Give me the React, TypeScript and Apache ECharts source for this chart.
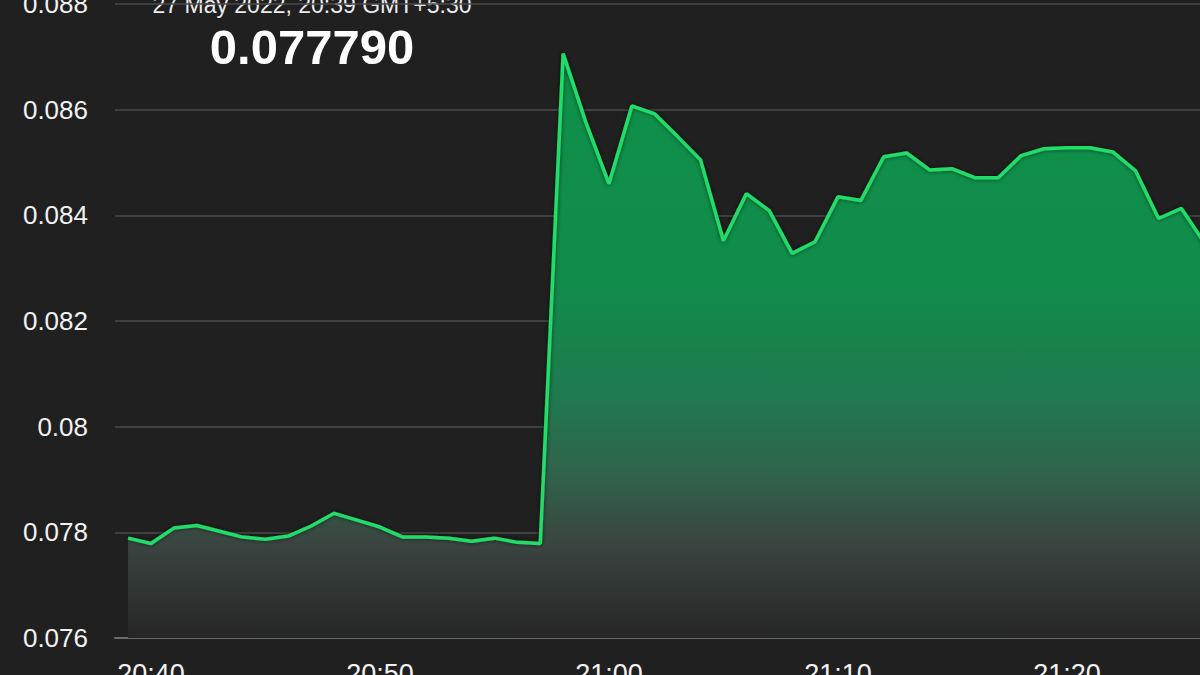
import React, { useEffect, useRef } from "react";
import * as echarts from "echarts";

// Minute-by-minute prices, 27 May 2022 (GMT+5:30)
const times: string[] = [
  "20:39", "20:40", "20:41", "20:42", "20:43", "20:44", "20:45", "20:46", "20:47", "20:48",
  "20:49", "20:50", "20:51", "20:52", "20:53", "20:54", "20:55", "20:56", "20:57", "20:58",
  "20:59", "21:00", "21:01", "21:02", "21:03", "21:04", "21:05", "21:06", "21:07", "21:08",
  "21:09", "21:10", "21:11", "21:12", "21:13", "21:14", "21:15", "21:16", "21:17", "21:18",
  "21:19", "21:20", "21:21", "21:22", "21:23", "21:24", "21:25", "21:26",
];
const prices: number[] = [
  0.07789, 0.07779, 0.07808, 0.07813, 0.07802, 0.07791, 0.07787, 0.07793, 0.07812, 0.07836,
  0.07823, 0.0781, 0.07791, 0.07791, 0.07789, 0.07783, 0.07789, 0.07781, 0.07779, 0.08706,
  0.08575, 0.0846, 0.08607, 0.08592, 0.08549, 0.08505, 0.08352, 0.08441, 0.08409, 0.08328,
  0.0835, 0.08435, 0.08428, 0.08511, 0.08518, 0.08486, 0.08488, 0.08471, 0.08471, 0.08513,
  0.08526, 0.08528, 0.08528, 0.0852, 0.08484, 0.08394, 0.08413, 0.08348,
];
const xTickLabels: string[] = ["20:40", "20:50", "21:00", "21:10", "21:20"];
const yMin = 0.076;
const yMax = 0.088;
const yStep = 0.002;
const headerDate = "27 May 2022, 20:39 GMT+5:30";
const headerValue = "0.077790";

const FONT = "'Liberation Sans', Arial, Helvetica, sans-serif";

const toMin = (t: string) => {
  const [h, m] = t.split(":").map(Number);
  return (h - 20) * 60 + m;
};
const fromMin = (v: number) => {
  const h = 20 + Math.floor(v / 60);
  const m = Math.round(v - (h - 20) * 60);
  return `${h}:${String(m).padStart(2, "0")}`;
};

export default function App() {
  const ref = useRef<HTMLDivElement>(null);
  useEffect(() => {
    if (!ref.current) return;
    const chart = echarts.init(ref.current, null, { renderer: "svg" });
    const data = times.map((t, i) => [toMin(t), prices[i]]);
    chart.setOption({
      animation: false,
      backgroundColor: "#202020",
      grid: {
        left: 115,
        right: 0,
        top: 4,
        bottom: 37,
        containLabel: false,
        outerBoundsMode: "none",
      },
      xAxis: {
        type: "value",
        min: 38.43,
        max: 85.81,
        axisLine: { show: true, lineStyle: { color: "#6a6a6a", width: 2 } },
        axisTick: { show: false },
        splitLine: { show: false },
        axisLabel: {
          customValues: xTickLabels.map(toMin),
          formatter: (v: number) => fromMin(v),
          color: "#f2f2f2",
          fontSize: 27,
          fontFamily: FONT,
          margin: 22,
        },
      },
      yAxis: {
        type: "value",
        min: yMin,
        max: yMax,
        interval: yStep,
        axisLine: { show: false },
        axisTick: { show: false },
        splitLine: { lineStyle: { color: "#4a4a4a", width: 1.5 } },
        axisLabel: {
          formatter: (v: number) => String(parseFloat(v.toFixed(3))),
          color: "#f2f2f2",
          fontSize: 26,
          fontFamily: FONT,
          margin: 27,
        },
      },
      series: [
        {
          type: "line",
          data,
          symbol: "none",
          clip: true,
          lineStyle: {
            color: "#22dc6a",
            width: 3.5,
            shadowColor: "rgba(0,0,0,0.6)",
            shadowBlur: 4,
          },
          areaStyle: {
            origin: "start",
            opacity: 1,
            color: new echarts.graphic.LinearGradient(0, 0, 0, 1, [
              { offset: 0, color: "#0e914a" },
              { offset: 0.4, color: "#118b4a" },
              { offset: 0.58, color: "#1f7a50" },
              { offset: 0.72, color: "#30634b" },
              { offset: 0.84, color: "#3a4440" },
              { offset: 1, color: "#262626" },
            ]),
          },
        },
      ],
      graphic: [
        {
          type: "text",
          x: 312,
          y: 5,
          style: {
            text: headerDate,
            fill: "#ececec",
            font: `23px ${FONT}`,
            align: "center",
            verticalAlign: "middle",
          },
        },
        {
          type: "text",
          x: 312,
          y: 47,
          style: {
            text: headerValue,
            fill: "#ffffff",
            font: `bold 49px ${FONT}`,
            align: "center",
            verticalAlign: "middle",
          },
        },
      ],
    });
    return () => chart.dispose();
  }, []);
  return (
    <div
      ref={ref}
      style={{ position: "absolute", left: 0, top: 0, width: 1200, height: 675 }}
    />
  );
}
